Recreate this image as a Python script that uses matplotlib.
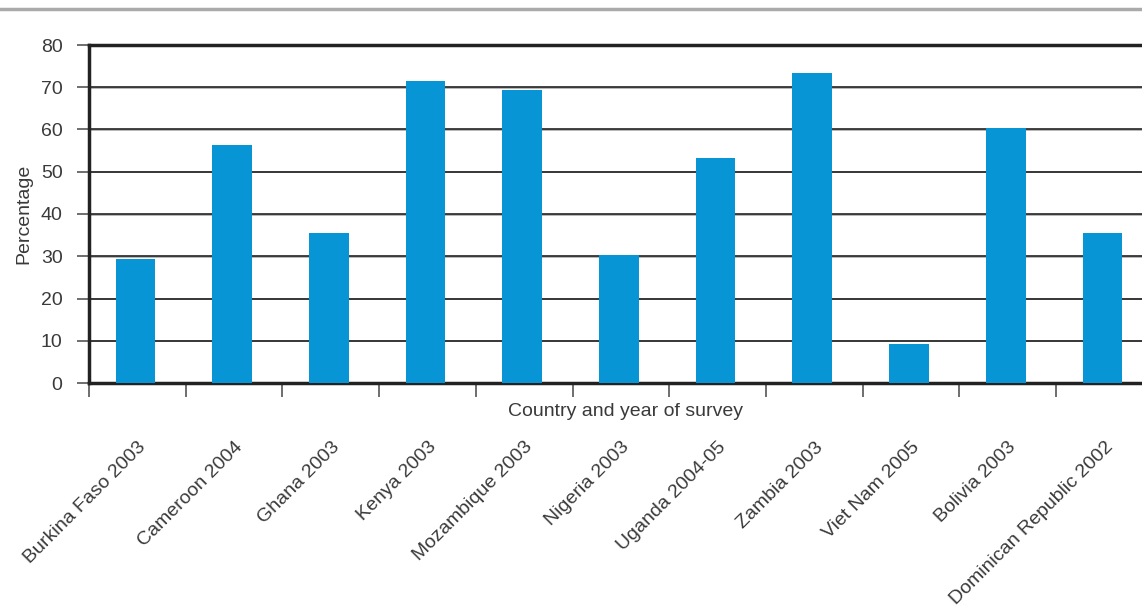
import numpy as np
import matplotlib
matplotlib.use("Agg")
from matplotlib import pyplot as plt
from matplotlib.lines import Line2D

# data
countries = ["Burkina Faso 2003", "Cameroon 2004", "Ghana 2003", "Kenya 2003",
             "Mozambique 2003", "Nigeria 2003", "Uganda 2004-05", "Zambia 2003",
             "Viet Nam 2005", "Bolivia 2003", "Dominican Republic 2002"]
percentage = [29.4, 56.3, 35.5, 71.5, 69.3, 30.3, 53.3, 73.4, 9.2, 60.4, 35.5]
y_ticks = [0, 10, 20, 30, 40, 50, 60, 70, 80]

plt.rcParams["font.family"] = ["Liberation Sans", "DejaVu Sans"]
text_col = "#3a3a3a"

fig = plt.figure(figsize=(11.42, 6.06), dpi=100)
ax = fig.add_axes([89 / 1142, 1 - 383 / 606, 1063.7 / 1142, 338 / 606])

x = np.arange(len(countries))
ax.bar(x - 0.02, percentage, width=0.41, color="#0895d6", zorder=3)

ax.set_xlim(-0.5, len(countries) - 0.5)
ax.set_ylim(0, 80)
ax.set_yticks(y_ticks)
ax.set_yticklabels([str(v) for v in y_ticks], fontsize=14, color=text_col)

# gridlines with a grey shadow below
for v in y_ticks[1:-1]:
    ax.axhline(v - 0.12, color="#aaaaaa", lw=1.2, zorder=1)
    ax.axhline(v, color="#222222", lw=1.2, zorder=2)

# x ticks sit on category boundaries, labels on the centres
ax.set_xticks(np.arange(len(countries) + 1) - 0.5)
ax.set_xticklabels([])
ax.set_xticks(x, minor=True)
ax.set_xticklabels(countries, minor=True, rotation=45, ha="right", va="top",
                   rotation_mode="anchor", fontsize=14, color=text_col)
ax.tick_params(axis="x", which="major", length=10, width=1.2, color="#555555",
               direction="out")
ax.tick_params(axis="x", which="minor", length=0, pad=40)
ax.tick_params(axis="y", length=9, width=1.2, color="#555555", pad=10)

for s in ["left", "bottom", "top"]:
    ax.spines[s].set_linewidth(2.5)
    ax.spines[s].set_color("#222222")
ax.spines["right"].set_visible(False)

ax.set_ylabel("Percentage", fontsize=14, color=text_col, labelpad=6)
fig.text(625 / 1142, 1 - 411 / 606, "Country and year of survey", fontsize=14,
         color=text_col, ha="center", va="center")

# grey rule across the top of the page
fig.add_artist(Line2D([0, 1], [1 - 9 / 606, 1 - 9 / 606], color="#aaaaaa", lw=2.5,
                      transform=fig.transFigure))

fig.savefig("out.png", dpi=100)
